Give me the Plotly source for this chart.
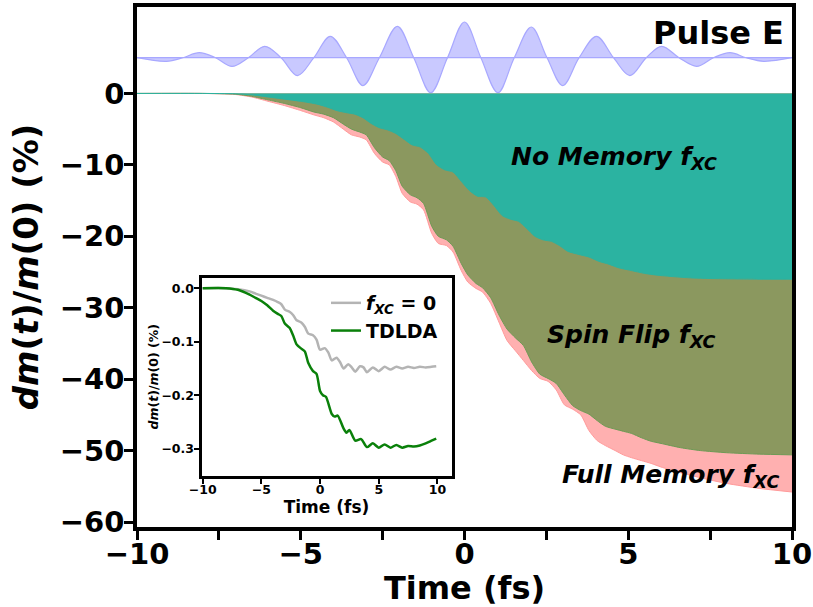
import plotly.graph_objects as go

# ---------------- data ----------------
pulse_t = [-10, -9.1, -8.6, -8.1, -7.6, -7.1, -6.6, -6.1, -5.6, -5.1, -4.6, -4.1, -3.6, -3.1,
           -2.6, -2.05, -1.55, -1.03, -0.52, 0.0, 0.5, 1.02, 1.52, 2.04, 2.52, 3.0, 3.5, 4.03,
           4.55, 5.05, 5.55, 6.02, 6.55, 7.09, 7.6, 8.11, 8.6, 9.13, 10]
pulse_v = [5.0, 4.5, 5.0, 5.7, 5.0, 3.8, 5.0, 6.6, 5.0, 2.5, 5.0, 8.0, 5.0, 1.1,
           5.0, 9.4, 5.0, 0.1, 5.0, 10.0, 5.0, 0.1, 5.0, 9.3, 5.0, 1.1, 5.0, 8.0,
           5.0, 2.5, 5.0, 6.6, 5.0, 3.8, 5.0, 5.7, 5.0, 4.5, 5.0]
pulse_base = 5.0

nm_t = [-10, -8, -7, -6.5, -6, -5.5, -5, -4.5, -4.2, -3.9, -3.6, -3.35, -3.1, -2.85, -2.6, -2.35,
        -2.1, -1.85, -1.6, -1.35, -1.1, -0.85, -0.6, -0.35, -0.1, 0.15, 0.4, 0.65, 0.9, 1.15,
        1.4, 1.65, 1.9, 2.15, 2.4, 2.65, 2.9, 3.15, 3.45, 3.8, 4.1, 4.4, 4.7, 5.0, 5.5, 6.0,
        7.0, 8.0, 9.0, 10]
nm_v = [0, 0, -0.05, -0.2, -0.5, -0.8, -1.1, -1.5, -1.9, -2.4, -2.7, -2.9, -3.4, -4.2, -4.8, -5.1,
        -5.6, -6.4, -7.2, -7.5, -8.4, -10.0, -10.7, -11.0, -12.3, -13.6, -14.4, -14.5, -15.7, -17.1,
        -17.6, -17.9, -18.9, -20.0, -20.5, -20.7, -21.3, -22.1, -22.5, -22.9, -23.5, -23.9, -24.4,
        -24.7, -25.2, -25.5, -25.85, -25.95, -26.0, -26.0]

sf_t = [-10, -8, -7, -6.5, -6, -5.5, -5, -4.6, -4.3, -4.0, -3.7, -3.45, -3.2, -3.0, -2.75, -2.5,
        -2.3, -2.1, -1.9, -1.65, -1.45, -1.25, -1.0, -0.8, -0.55, -0.35, -0.1, 0.1, 0.35, 0.55,
        0.8, 1.05, 1.3, 1.55, 1.8, 2.05, 2.3, 2.55, 2.8, 3.05, 3.3, 3.55, 3.8, 4.05, 4.3, 4.6,
        4.85, 5.1, 5.4, 5.7, 6.0, 6.6, 7.2, 8.0, 9.0, 10]
sf_v = [0, 0, -0.1, -0.4, -0.9, -1.4, -2.0, -2.6, -2.9, -3.4, -4.3, -5.0, -5.4, -5.8, -7.6, -8.9,
        -9.4, -10.8, -13.0, -14.2, -14.6, -15.4, -18.6, -20.0, -20.5, -21.4, -23.8, -25.4, -26.6,
        -27.2, -28.6, -31.0, -33.0, -34.2, -35.3, -37.6, -39.3, -39.9, -40.6, -42.2, -43.7, -44.4,
        -44.9, -45.8, -46.6, -47.0, -47.3, -47.6, -48.2, -48.7, -49.0, -49.6, -50.0, -50.3, -50.5,
        -50.6]

fm_t = sf_t
fm_v = [0, 0, -0.15, -0.5, -1.1, -1.7, -2.4, -3.0, -3.4, -4.0, -5.0, -5.8, -6.1, -6.5, -8.4, -9.6,
        -10.0, -11.6, -14.0, -15.2, -15.5, -16.3, -19.6, -21.0, -21.3, -22.2, -24.8, -26.4, -27.3,
        -27.8, -29.4, -32.0, -34.6, -36.0, -37.4, -38.8, -39.9, -40.3, -41.5, -43.6, -44.2, -45.0,
        -47.2, -48.6, -49.3, -50.0, -50.6, -51.0, -51.4, -51.8, -52.3, -53.1, -53.8, -54.6, -55.3,
        -55.8]

ins_gray_t = [-10, -8, -7, -6, -5.5, -5, -4.5, -4, -3.6, -3.3, -3.0, -2.6, -2.3, -2.0, -1.6, -1.3,
              -1.0, -0.6, -0.3, 0, 0.4, 0.7, 1.0, 1.4, 1.7, 2.0, 2.4, 2.7, 3.0, 3.4, 3.7, 4.0, 4.5,
              5.0, 5.5, 6.0, 6.5, 7.0, 7.5, 8.0, 8.5, 9.0, 9.5, 9.9]
ins_gray_v = [0, 0, -0.002, -0.006, -0.01, -0.014, -0.018, -0.022, -0.026, -0.03, -0.04, -0.044,
              -0.05, -0.06, -0.064, -0.072, -0.085, -0.088, -0.096, -0.115, -0.112, -0.12,
              -0.135, -0.13, -0.138, -0.15, -0.142, -0.148, -0.156, -0.146, -0.148, -0.157,
              -0.148, -0.155, -0.147, -0.152, -0.147, -0.15, -0.147, -0.149, -0.147, -0.148,
              -0.147, -0.146]
ins_green_t = [-10, -8, -7, -6, -5.5, -5, -4.5, -4, -3.6, -3.3, -3.0, -2.6, -2.3, -2.0, -1.6,
               -1.3, -1.0, -0.6, -0.3, 0, 0.25, 0.5, 1.0, 1.25, 1.5, 2.0, 2.25, 2.5, 3.0, 3.5,
               4.0, 4.5, 5.0, 5.5, 6.0, 6.5, 7.0, 7.5, 8.0, 8.5, 9.0, 9.5, 9.9]
ins_green_v = [0, 0, -0.003, -0.012, -0.018, -0.024, -0.032, -0.042, -0.048, -0.052, -0.066,
               -0.074, -0.088, -0.105, -0.113, -0.118, -0.14, -0.155, -0.16, -0.192, -0.2,
               -0.203, -0.235, -0.24, -0.238, -0.262, -0.27, -0.265, -0.285, -0.282, -0.297,
               -0.29, -0.298, -0.292, -0.298, -0.293, -0.298, -0.295, -0.296, -0.294, -0.29,
               -0.285, -0.281]

main_yticks = [0, -10, -20, -30, -40, -50, -60]
main_xticks = [-10, -5, 0, 5, 10]
main_xminor = [-7.5, -2.5, 2.5, 7.5]
ins_xticks = [-10, -5, 0, 5, 10]
ins_yticks = [0.0, -0.1, -0.2, -0.3]

# ---------------- styles ----------------
TEAL = "#2bb3a1"
OLIVE = "#8b985f"
PINK = "#ffb0b0"
FONT = "DejaVu Sans"

fig = go.Figure()

# pulse
fig.add_trace(go.Scatter(x=[pulse_t[0], pulse_t[-1]], y=[pulse_base, pulse_base], mode="lines",
                         line=dict(color="#a8a8ff", width=1.2), showlegend=False, hoverinfo="skip"))
fig.add_trace(go.Scatter(x=pulse_t, y=pulse_v, mode="lines", fill="tonexty",
                         fillcolor="rgba(0,0,255,0.21)", line=dict(color="#a8a8ff", width=1.2,
                         shape="spline", smoothing=1.0), showlegend=False, hoverinfo="skip"))

# magnetisation regions
fig.add_trace(go.Scatter(x=fm_t, y=fm_v, mode="lines", fill="tozeroy", fillcolor=PINK,
                         line=dict(color="#ff9a9a", width=1, shape="spline", smoothing=0.6),
                         showlegend=False))
fig.add_trace(go.Scatter(x=sf_t, y=sf_v, mode="lines", fill="tozeroy", fillcolor=OLIVE,
                         line=dict(color="#6e9a55", width=1, shape="spline", smoothing=0.6),
                         showlegend=False))
fig.add_trace(go.Scatter(x=nm_t, y=nm_v, mode="lines", fill="tozeroy", fillcolor=TEAL,
                         line=dict(color=TEAL, width=1, shape="spline", smoothing=0.6),
                         showlegend=False))

# inset
fig.add_trace(go.Scatter(x=ins_gray_t, y=ins_gray_v, mode="lines", xaxis="x2", yaxis="y2",
                         line=dict(color="#b4b4b4", width=2.5, shape="spline", smoothing=0.7),
                         name="<b><i>f</i><sub><i>XC</i></sub> = 0</b>"))
fig.add_trace(go.Scatter(x=ins_green_t, y=ins_green_v, mode="lines", xaxis="x2", yaxis="y2",
                         line=dict(color="#0a800a", width=2.5, shape="spline", smoothing=0.7),
                         name="<b>TDLDA</b>"))

L, R, T, B = 137, 21, 7, 80
W, H = 813, 607
pw, ph = W - L - R, H - T - B


def px2paper_x(px):
    return (px - L) / pw


def px2paper_y(py):
    return (H - B - py) / ph


axis_common = dict(showgrid=False, zeroline=False, showline=True, linecolor="black",
                   mirror=True, ticks="outside", tickcolor="black", automargin=False)

fig.update_layout(
    width=W, height=H, margin=dict(l=L, r=R, t=T, b=B),
    paper_bgcolor="white", plot_bgcolor="white",
    font=dict(family=FONT, color="black"),
    xaxis=dict(range=[-10, 10], tickvals=main_xticks, linewidth=3.5, ticklen=9, tickwidth=2.5,
               tickfont=dict(size=29, weight="bold"), ticklabelstandoff=-11,
               minor=dict(tickvals=main_xminor, ticks="outside", ticklen=9, tickwidth=2.5,
                          tickcolor="black"),
               title=dict(text="<b>Time (fs)</b>", font=dict(size=32), standoff=11),
               **axis_common),
    yaxis=dict(range=[-60.7, 12.1], tickvals=main_yticks, linewidth=3.5, ticklen=9, tickwidth=2.5,
               tickfont=dict(size=29, weight="bold"), ticklabelstandoff=-6,
               title=dict(text="<b><i>dm</i>(<i>t</i>)/<i>m</i>(0) (%)</b>", font=dict(size=34),
                          standoff=12),
               **axis_common),
    xaxis2=dict(domain=[px2paper_x(201.5), px2paper_x(451.5)], anchor="y2", range=[-10.1, 11.2],
                tickvals=ins_xticks, linewidth=3, ticklen=5, tickwidth=2,
                tickfont=dict(size=12.5, weight="bold"), ticklabelstandoff=-5,
                title=dict(text="<b>Time (fs)</b>", font=dict(size=17), standoff=0),
                **axis_common),
    yaxis2=dict(domain=[px2paper_y(476), px2paper_y(277.5)], anchor="x2", range=[-0.351, 0.02],
                tickvals=ins_yticks, tickformat=".1f", linewidth=3, ticklen=5, tickwidth=2,
                tickfont=dict(size=12.5, weight="bold"), ticklabelstandoff=-3,
                title=dict(text="<b><i>dm</i>(<i>t</i>)/<i>m</i>(0) (%)</b>", font=dict(size=12.5),
                           standoff=0),
                **axis_common),
    legend=dict(x=px2paper_x(326), y=px2paper_y(284), xanchor="left", yanchor="top",
                bgcolor="rgba(0,0,0,0)", font=dict(size=19, family=FONT), itemwidth=30,
                tracegroupgap=0, traceorder="normal"),
    showlegend=True,
)

ann_font = dict(family=FONT, size=25, color="black")
fig.add_annotation(x=4.55, y=-9.0, text="<b><i>No Memory f<sub>XC</sub></i></b>",
                   showarrow=False, font=ann_font, xref="x", yref="y")
fig.add_annotation(x=5.1, y=-33.9, text="<b><i>Spin Flip f<sub>XC</sub></i></b>",
                   showarrow=False, font=ann_font, xref="x", yref="y")
fig.add_annotation(x=6.3, y=-53.6, text="<b><i>Full Memory f<sub>XC</sub></i></b>",
                   showarrow=False, font=ann_font, xref="x", yref="y")
fig.add_annotation(x=px2paper_x(786), y=px2paper_y(33), text="<b>Pulse E</b>", xref="paper",
                   yref="paper", xanchor="right", yanchor="middle", showarrow=False,
                   font=dict(family=FONT, size=32, color="black"))

fig.write_html("out.html")
